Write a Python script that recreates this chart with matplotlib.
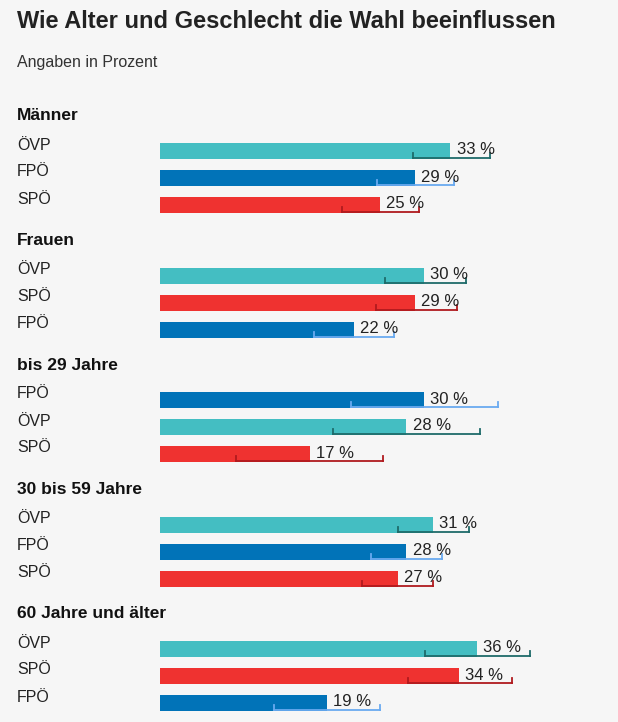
import matplotlib.pyplot as plt

plt.rcParams['font.family'] = ['Liberation Sans', 'DejaVu Sans']

groups = ['Männer', 'Frauen', 'bis 29 Jahre', '30 bis 59 Jahre', '60 Jahre und älter']
parties = [['ÖVP', 'FPÖ', 'SPÖ'],
           ['ÖVP', 'SPÖ', 'FPÖ'],
           ['FPÖ', 'ÖVP', 'SPÖ'],
           ['ÖVP', 'FPÖ', 'SPÖ'],
           ['ÖVP', 'SPÖ', 'FPÖ']]
values = [[33, 29, 25],
          [30, 29, 22],
          [30, 28, 17],
          [31, 28, 27],
          [36, 34, 19]]
low = [[28.8, 24.7, 20.7],
       [25.6, 24.5, 17.5],
       [21.7, 19.7, 8.6],
       [27.0, 24.0, 23.0],
       [30.1, 28.2, 13.0]]
high = [[37.5, 33.4, 29.4],
        [34.8, 33.8, 26.6],
        [38.4, 36.4, 25.3],
        [35.1, 32.0, 31.0],
        [42.0, 40.0, 25.0]]

bar_col = {'ÖVP': '#44bec2', 'FPÖ': '#0173b8', 'SPÖ': '#ef3230'}
rng_col = {'ÖVP': '#1e6b6a', 'FPÖ': '#6aaaf0', 'SPÖ': '#b01a1e'}

W, H = 618, 722
fig = plt.figure(figsize=(W / 100, H / 100), dpi=100, facecolor='#f6f6f6')
ax = fig.add_axes([0, 0, 1, 1])
ax.set_facecolor('#f6f6f6')
px = 8.8  # pixels per percent
ax.set_xlim(-160 / px, (W - 160) / px)
ax.set_ylim(H, 0)
ax.axis('off')

def xp(p):
    return (p - 160) / px

ax.text(xp(17), 21, 'Wie Alter und Geschlecht die Wahl beeinflussen',
        fontsize=17, fontweight='bold', va='center', color='#222')
ax.text(xp(17), 62, 'Angaben in Prozent', fontsize=11.5, va='center', color='#333')

for g, name in enumerate(groups):
    top = 116 + g * 124.5
    ax.text(xp(17), top, name, fontsize=12.5, fontweight='bold', va='center', color='#111')
    for i, p in enumerate(parties[g]):
        yc = top + 35 + i * 27
        ax.text(xp(17), yc - 6, p, fontsize=11.5, va='center', color='#222')
        ax.barh(yc, values[g][i], height=16, color=bar_col[p], left=0)
        yb = yc + 7
        c = rng_col[p]
        ax.plot([low[g][i], high[g][i]], [yb, yb], color=c, lw=1.3)
        ax.plot([low[g][i]] * 2, [yb, yb - 5], color=c, lw=1.3)
        ax.plot([high[g][i]] * 2, [yb, yb - 5], color=c, lw=1.3)
        ax.text(values[g][i] + 0.7, yc - 1, f'{values[g][i]} %', fontsize=12,
                va='center', color='#222')

fig.savefig('out.png', dpi=100, facecolor=fig.get_facecolor())
